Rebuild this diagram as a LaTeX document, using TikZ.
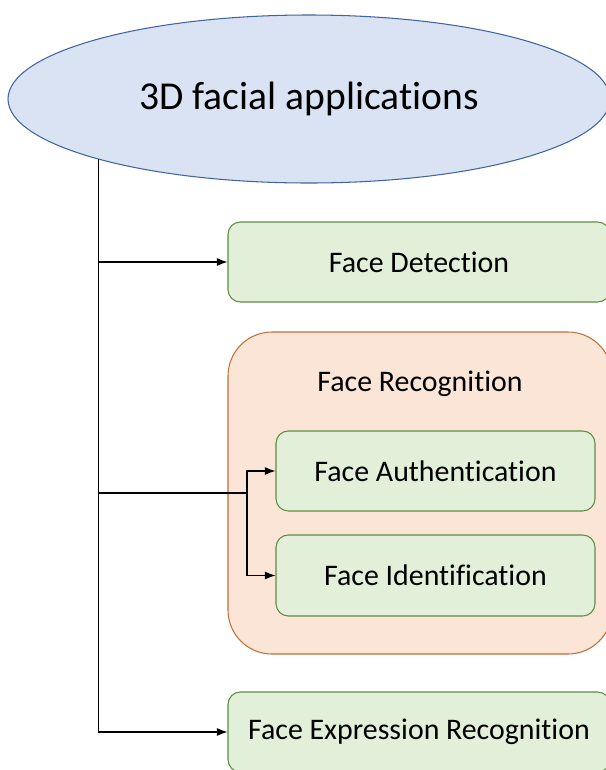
\documentclass[tikz,border=0pt]{standalone}
\usepackage{fontspec}
\setmainfont{Carlito}[Ligatures=NoCommon]
\usetikzlibrary{shapes.geometric,arrows.meta}

\definecolor{ellfill}{HTML}{DAE3F3}
\definecolor{elldraw}{HTML}{41649E}
\definecolor{boxfill}{HTML}{E2F0D9}
\definecolor{boxdraw}{HTML}{5E8C45}
\definecolor{recfill}{HTML}{FBE5D6}
\definecolor{recdraw}{HTML}{C0703A}

\begin{document}
\begin{tikzpicture}[x=0.2mm,y=-0.2mm,
  appli/.style={ellipse,draw=elldraw,fill=ellfill,line width=0.6pt,inner sep=0pt,
    font=\fontsize{22.5}{27}\selectfont},
  task/.style={rectangle,rounded corners=7pt,draw=boxdraw,fill=boxfill,line width=0.6pt,
    inner sep=0pt,font=\fontsize{17}{20}\selectfont},
  group/.style={rectangle,rounded corners=25pt,draw=recdraw,fill=recfill,line width=0.6pt,
    inner sep=0pt},
  arr/.style={-{Latex[length=6pt,width=4.5pt]},line width=0.6pt}]
\def\u{0.2mm}

\useasboundingbox (0,0) rectangle (606,770);
\clip (0,0) rectangle (606,770);

%l'ellipse du haut
\node[appli,minimum width=602*\u,minimum height=168*\u] (root) at (309,99) {3D facial applications};

%les taches
\node[task,minimum width=382*\u,minimum height=80*\u] (fdet) at (419,262) {Face Detection};

\node[group,minimum width=384*\u,minimum height=322*\u] (frec) at (420,493) {};
\node[font=\fontsize{17}{20}\selectfont] (frectitle) at (420,384) {Face Recognition};
\node[task,minimum width=319*\u,minimum height=80*\u] (fauth) at (435.5,471) {Face Authentication};
\node[task,minimum width=319*\u,minimum height=81*\u] (fid) at (435.5,575.5) {Face Identification};

\node[task,minimum width=382*\u,minimum height=80*\u] (fexp) at (419,732) {Face Expression Recognition};

%les connecteurs
\coordinate (trunk) at (root.196.3);
\coordinate (split) at (247,493);

\draw[line width=0.6pt] (trunk) -- (trunk |- fexp.west);
\draw[arr] (trunk |- fdet.west) -- (fdet.west);
\draw[line width=0.6pt] (trunk |- split) -- (split);
\draw[arr] (split) |- (fauth.west);
\draw[arr] (split) |- (fid.west);
\draw[arr] (trunk |- fexp.west) -- (fexp.west);

\end{tikzpicture}
\end{document}
